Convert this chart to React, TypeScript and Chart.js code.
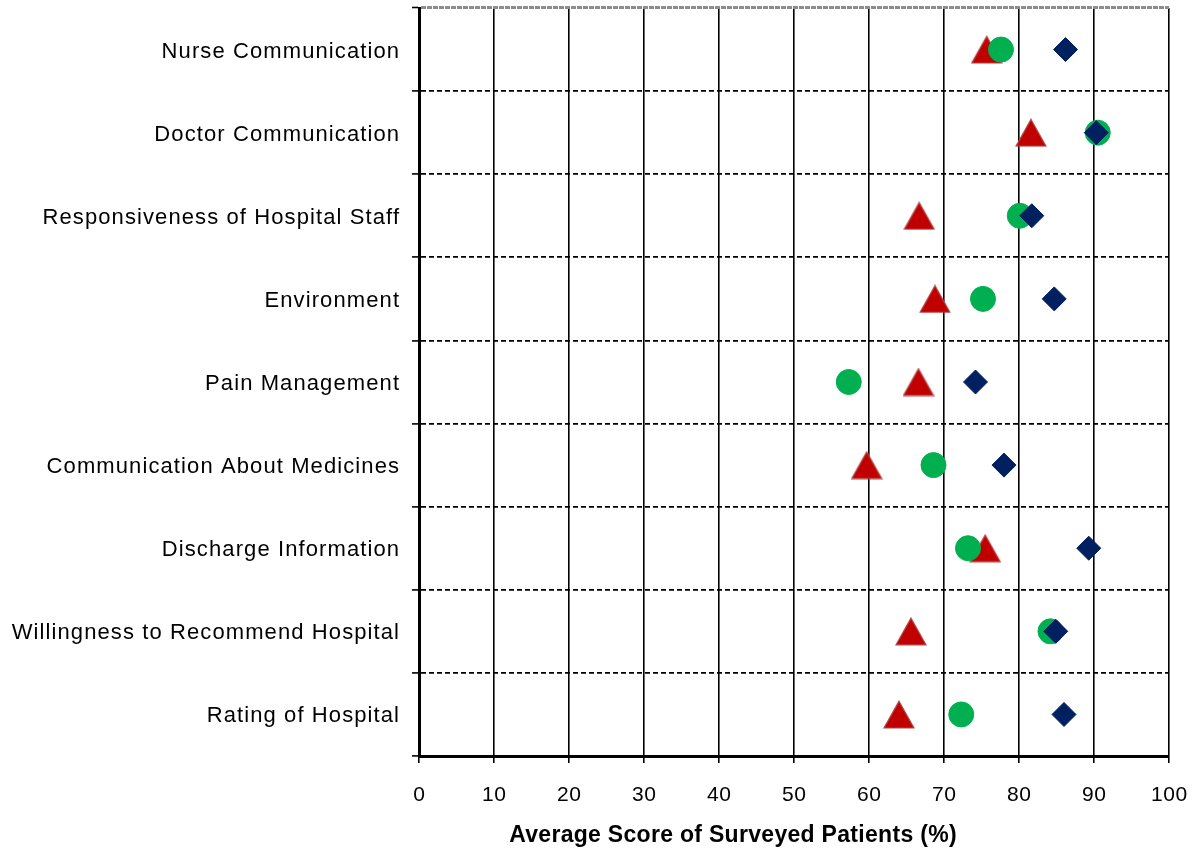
import { useEffect, useRef } from 'react';
import { Chart, registerables } from 'chart.js';

Chart.register(...registerables);

const categories = [
  'Nurse Communication',
  'Doctor Communication',
  'Responsiveness of Hospital Staff',
  'Environment',
  'Pain Management',
  'Communication About Medicines',
  'Discharge Information',
  'Willingness to Recommend Hospital',
  'Rating of Hospital',
];

// red triangles
const seriesTriangle = [75.7, 81.6, 66.7, 68.8, 66.6, 59.7, 75.5, 65.6, 64.0];
// green circles
const seriesCircle = [77.6, 90.5, 80.1, 75.2, 57.3, 68.6, 73.2, 84.2, 72.3];
// navy diamonds
const seriesDiamond = [86.2, 90.3, 81.7, 84.7, 74.2, 78.0, 89.3, 84.9, 86.0];

const xTickLabels = ['0', '10', '20', '30', '40', '50', '60', '70', '80', '90', '100'];
const xTickValues = [0, 10, 20, 30, 40, 50, 60, 70, 80, 90, 100];
const xAxisTitle = 'Average Score of Surveyed Patients (%)';

function makeTriangle(): HTMLCanvasElement {
  const c = document.createElement('canvas');
  c.width = 32;
  c.height = 29;
  const g = c.getContext('2d')!;
  g.beginPath();
  g.moveTo(16, 1.2);
  g.lineTo(31, 28);
  g.lineTo(1, 28);
  g.closePath();
  g.fillStyle = '#C00000';
  g.fill();
  g.strokeStyle = '#B04848';
  g.lineWidth = 1.2;
  g.stroke();
  return c;
}

const textPlugin = {
  id: 'customText',
  afterDraw(chart: any) {
    const ctx = chart.ctx as any;
    const ys = chart.scales.y;
    const xs = chart.scales.x;
    ctx.save();
    ctx.fillStyle = '#000';
    // category labels
    ctx.font = '22px "Liberation Sans", Arial, sans-serif';
    ctx.letterSpacing = '1.1px';
    ctx.textAlign = 'right';
    ctx.textBaseline = 'alphabetic';
    categories.forEach((c, i) => {
      const y = ys.getPixelForTick(i);
      ctx.fillText(c, ys.right - 20 + 1.1, y + 8);
    });
    // x tick labels
    ctx.font = '21px "Liberation Sans", Arial, sans-serif';
    ctx.letterSpacing = '0.6px';
    ctx.textAlign = 'center';
    xTickValues.forEach((v, i) => {
      ctx.fillText(xTickLabels[i], xs.getPixelForValue(v) + 0.3, xs.top + 45);
    });
    // axis title
    ctx.font = 'bold 23px "Liberation Sans", Arial, sans-serif';
    ctx.letterSpacing = '0.3px';
    ctx.fillText(xAxisTitle, xs.left + 314, xs.top + 85.5);
    ctx.restore();
  },
};

export default function App() {
  const ref = useRef<HTMLCanvasElement | null>(null);

  useEffect(() => {
    if (!ref.current) return;
    const tri = makeTriangle();
    const chart = new Chart(ref.current, {
      type: 'line',
      data: {
        labels: categories,
        datasets: [
          {
            label: 'Diamond series',
            data: seriesDiamond,
            showLine: false,
            pointStyle: 'rectRot',
            pointRadius: 12,
            pointHoverRadius: 12,
            pointBackgroundColor: '#002060',
            pointBorderColor: '#002060',
            pointBorderWidth: 1,
            clip: false,
          },
          {
            label: 'Circle series',
            data: seriesCircle,
            showLine: false,
            pointStyle: 'circle',
            pointRadius: 12.5,
            pointHoverRadius: 12.5,
            pointBackgroundColor: '#00B050',
            pointBorderColor: '#00B050',
            pointBorderWidth: 1,
            clip: false,
          },
          {
            label: 'Triangle series',
            data: seriesTriangle,
            showLine: false,
            pointStyle: tri,
            pointRadius: 14,
            pointHoverRadius: 14,
            pointBackgroundColor: '#C00000',
            pointBorderColor: '#B04848',
            clip: false,
          },
        ],
      } as any,
      options: {
        responsive: true,
        maintainAspectRatio: false,
        animation: false,
        indexAxis: 'y',
        events: [],
        layout: { autoPadding: false, padding: { top: 8, right: 30, left: 0, bottom: 0 } },
        plugins: { legend: { display: false }, tooltip: { enabled: false } },
        scales: {
          x: {
            type: 'linear',
            min: 0,
            max: 100,
            ticks: { stepSize: 10, display: false },
            grid: {
              color: '#000',
              lineWidth: 1.6,
              tickLength: 7,
              tickColor: '#000',
              tickWidth: 1.6,
            },
            border: { display: true, color: '#000', width: 3, dash: [] },
            afterFit: (s: any) => {
              s.height = 94;
              s.paddingLeft = 0;
              s.paddingRight = 0;
              s.paddingTop = 0;
              s.paddingBottom = 0;
            },
          },
          y: {
            type: 'category',
            offset: true,
            ticks: { display: false },
            grid: {
              offset: true,
              color: (c: any) => (c.index === 0 ? '#8c8c8c' : '#000'),
              lineWidth: (c: any) => (c.index === 0 ? 3 : 1.8),
              tickLength: 7,
              tickColor: '#000',
              tickWidth: 1.6,
              tickBorderDash: [],
            },
            border: {
              display: true,
              color: '#000',
              width: 3,
              dash: (c: any) => (c.index === 0 ? [5, 1] : [5, 3]),
            },
            afterFit: (s: any) => {
              s.width = 419;
              s.paddingLeft = 0;
              s.paddingRight = 0;
              s.paddingTop = 0;
              s.paddingBottom = 0;
            },
          },
        },
      } as any,
      plugins: [textPlugin],
    });
    return () => chart.destroy();
  }, []);

  return (
    <div style={{ position: 'fixed', left: 0, top: 0, width: 1199, height: 850, background: '#fff' }}>
      <canvas ref={ref} />
    </div>
  );
}
